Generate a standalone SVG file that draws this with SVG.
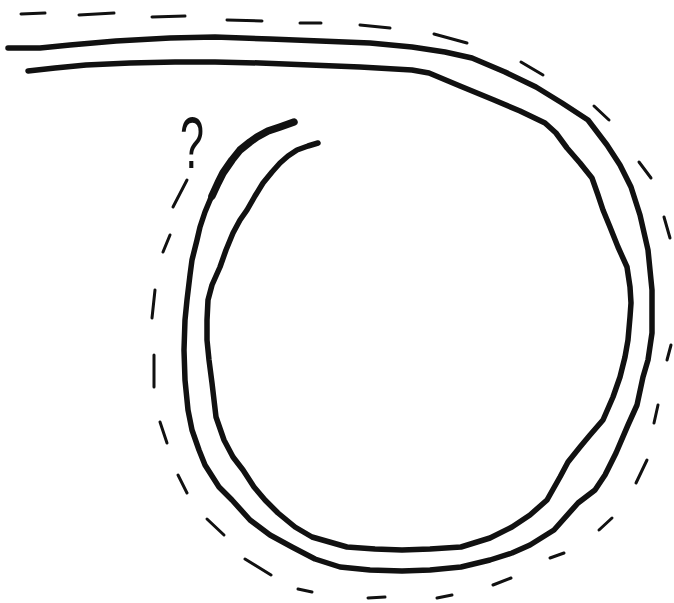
<svg xmlns="http://www.w3.org/2000/svg" width="674" height="603" viewBox="0 0 674 603">
<style>
.strand{fill:none;stroke:#111;stroke-width:5.5;stroke-linecap:round;stroke-linejoin:round}
.dash{fill:none;stroke:#111;stroke-width:3;stroke-linecap:round}
.q{font-family:"Liberation Sans",Arial,sans-serif;font-size:72px;fill:#111}
</style>
<rect width="674" height="603" fill="#fff"/>
<g id="rope">
<polyline class="strand" points="8,48 40,48 70,45 116,41 170,38 215,37 270,39 320,41 370,43 412,47 445,52 472,58 505,72 536,87 562,103 588,120 607,145 620,165 631,187 640,215 648,250 652,290 652,333 648,360 643,377 637,405 628,425 616,453 605,475 595,490 578,503 554,530 530,545 512,553 490,560 461,567 430,570 402,571 370,570 340,567 315,559 292,547 270,535 250,520 232,500 219,487 205,465 199,450 192,430 188,410 185,380 184,350 185,320 187,300 190,275 192,260 197,240 200,227 205,212 210,200 218,183 223,173 232,160 240,150 250,142 257,137 268,131 280,127 294,122"/>
<polyline class="strand" style="stroke-width:7.5" points="212,196 218,183 223,173 232,160 240,150 250,142 257,137 268,131 280,127 294,122"/>
<polyline class="strand" points="28,71 55,68 86,65 130,63 175,62 215,62 260,63 310,65 360,67 412,70 429,73 460,86 494,100 520,111 545,123 556,133 567,148 580,163 592,178 598,195 603,210 610,227 618,247 627,267 630,287 631,303 630,317 628,340 625,357 620,377 613,397 603,420 590,435 580,447 568,462 560,477 547,500 530,515 512,527 490,538 461,547 430,549 402,550 375,549 347,547 312,537 295,527 278,513 265,500 254,487 243,470 233,457 224,440 216,417 214,400 212,383 209,360 207,340 207,320 208,300 212,285 220,267 226,250 233,233 240,220 247,210 255,196 263,183 272,172 280,163 288,156 297,150 308,146 318,143"/>
</g>
<g id="dashed-path">
<line class="dash" x1="21" y1="14" x2="45" y2="13"/>
<line class="dash" x1="79" y1="15" x2="114" y2="13"/>
<line class="dash" x1="152" y1="17" x2="185" y2="16"/>
<line class="dash" x1="227" y1="20" x2="262" y2="21"/>
<line class="dash" x1="300" y1="23" x2="321" y2="23"/>
<line class="dash" x1="360" y1="25" x2="390" y2="28"/>
<line class="dash" x1="434" y1="34" x2="467" y2="43"/>
<line class="dash" x1="521" y1="62" x2="543" y2="75"/>
<line class="dash" x1="594" y1="106" x2="609" y2="120"/>
<line class="dash" x1="639" y1="162" x2="651" y2="178"/>
<line class="dash" x1="664" y1="217" x2="670" y2="238"/>
<line class="dash" x1="671" y1="345" x2="667" y2="360"/>
<line class="dash" x1="658" y1="405" x2="654" y2="423"/>
<line class="dash" x1="647" y1="460" x2="636" y2="483"/>
<line class="dash" x1="612" y1="518" x2="599" y2="530"/>
<line class="dash" x1="564" y1="553" x2="550" y2="558"/>
<line class="dash" x1="511" y1="578" x2="493" y2="585"/>
<line class="dash" x1="452" y1="595" x2="437" y2="598"/>
<line class="dash" x1="385" y1="597" x2="368" y2="598"/>
<line class="dash" x1="312" y1="592" x2="298" y2="589"/>
<line class="dash" x1="271" y1="575" x2="245" y2="559"/>
<line class="dash" x1="224" y1="535" x2="207" y2="519"/>
<line class="dash" x1="187" y1="493" x2="178" y2="475"/>
<line class="dash" x1="167" y1="443" x2="160" y2="422"/>
<line class="dash" x1="154" y1="387" x2="154" y2="355"/>
<line class="dash" x1="152" y1="318" x2="155" y2="290"/>
<line class="dash" x1="163" y1="252" x2="170" y2="235"/>
<line class="dash" x1="173" y1="207" x2="187" y2="180"/>
</g>
<text class="q" transform="translate(192,168) scale(0.6,1)" text-anchor="middle">?</text>
</svg>
